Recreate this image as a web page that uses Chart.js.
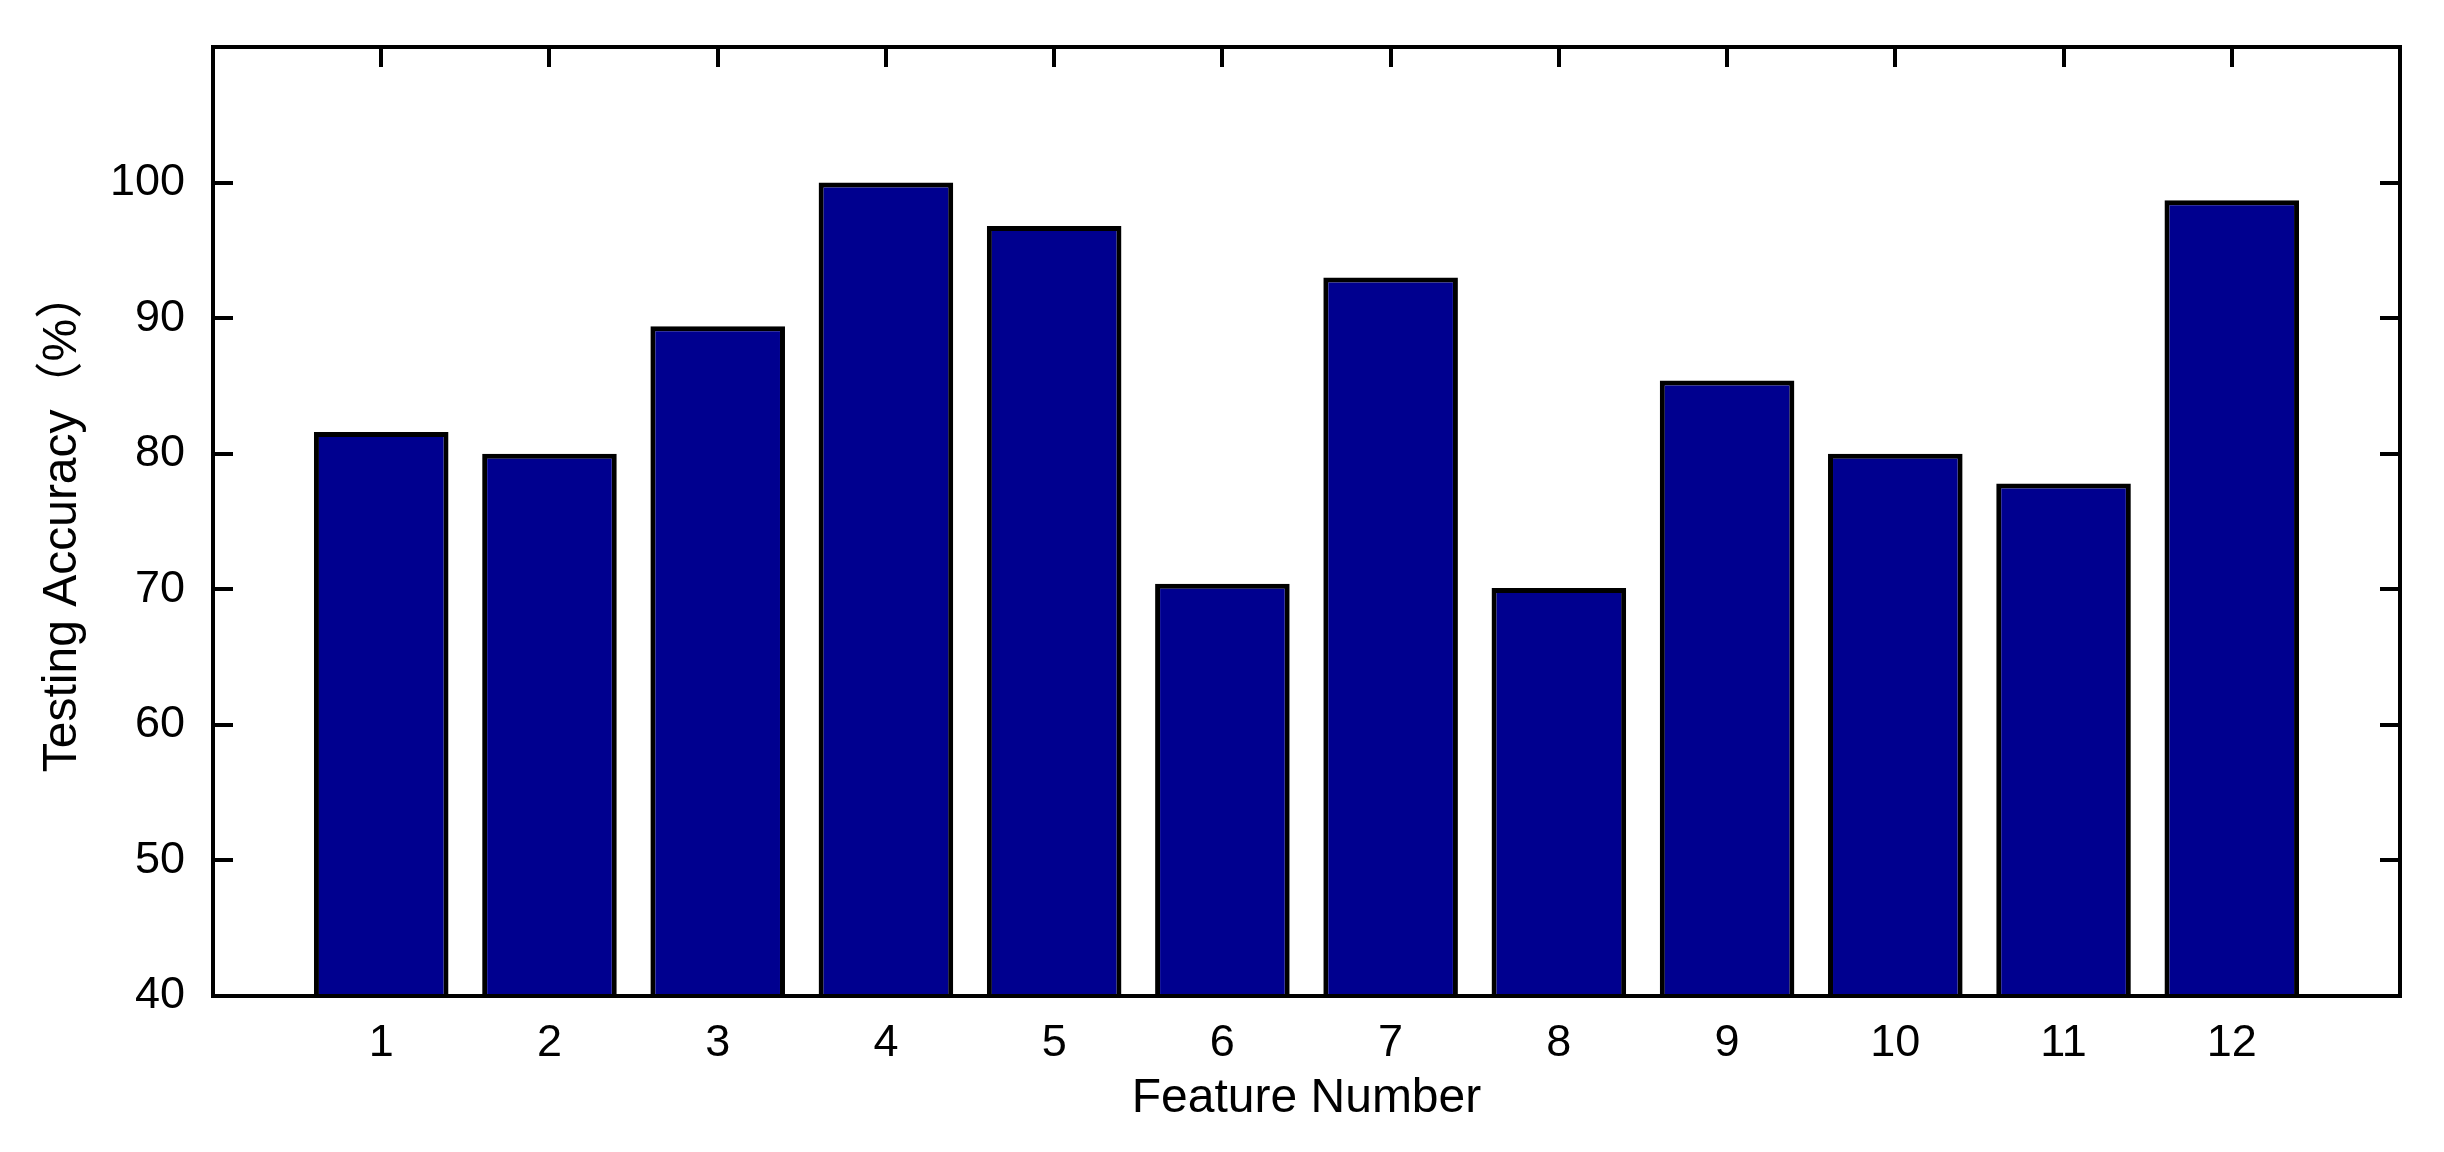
<!DOCTYPE html>
<html>
<head>
<meta charset="utf-8">
<script src="https://cdn.jsdelivr.net/npm/chart.js@4/dist/chart.umd.min.js"></script>
<style>
  html, body { margin: 0; padding: 0; background: #fff; }
  canvas { display: block; }
</style>
</head>
<body>
<canvas id="bar-chart" width="2444" height="1152"></canvas>
<script>
// values
var features = [1, 2, 3, 4, 5, 6, 7, 8, 9, 10, 11, 12];
var accuracy = [81.6, 80.0, 89.4, 100.0, 96.8, 70.4, 93.0, 70.1, 85.4, 80.0, 77.8, 98.7];
var yTicks = [40, 50, 60, 70, 80, 90, 100];

var fontFam = "'Liberation Sans', Arial, 'Noto Sans CJK SC', sans-serif";

// matlab style box with inward ticks
var boxPlugin = {
  id: 'box',
  beforeDatasetsDraw: function(chart) {
    var ctx = chart.ctx, a = chart.chartArea;
    var xs = chart.scales.x, ys = chart.scales.y;
    ctx.save();
    ctx.strokeStyle = '#000';
    ctx.lineWidth = 4;
    ctx.beginPath();
    features.forEach(function(f) {
      var px = Math.round(xs.getPixelForValue(f));
      ctx.moveTo(px, a.bottom); ctx.lineTo(px, a.bottom - 20);
      ctx.moveTo(px, a.top); ctx.lineTo(px, a.top + 20);
    });
    yTicks.forEach(function(v) {
      var py = Math.round(ys.getPixelForValue(v));
      ctx.moveTo(a.left, py); ctx.lineTo(a.left + 20, py);
      ctx.moveTo(a.right, py); ctx.lineTo(a.right - 20, py);
    });
    ctx.stroke();
    ctx.restore();
  },
  afterDatasetsDraw: function(chart) {
    var ctx = chart.ctx, a = chart.chartArea;
    ctx.save();
    ctx.strokeStyle = '#000';
    ctx.lineWidth = 4;
    ctx.strokeRect(a.left, a.top, a.right - a.left, a.bottom - a.top);
    ctx.restore();
  }
};

new Chart(document.getElementById("bar-chart"), {
  type: 'bar',
  data: {
    datasets: [{
      label: 'Testing Accuracy',
      data: features.map(function(f, i) { return {x: f, y: accuracy[i]}; }),
      backgroundColor: '#00008F',
      borderColor: '#000',
      borderWidth: 5,
      borderSkipped: false,
      inflateAmount: 0,
      barPercentage: 0.8,
      categoryPercentage: 1.0
    }]
  },
  options: {
    responsive: false,
    animation: false,
    devicePixelRatio: 1,
    layout: { padding: { top: 44, right: 44, left: 0, bottom: 0 } },
    plugins: {
      legend: { display: false },
      tooltip: { enabled: false }
    },
    scales: {
      x: {
        type: 'linear',
        min: 0,
        max: 13,
        offset: false,
        grid: { display: false },
        border: { display: false },
        ticks: {
          stepSize: 1,
          autoSkip: false,
          maxRotation: 0,
          padding: 13,
          color: '#000',
          font: { family: fontFam, size: 45 },
          callback: function(v) { return (v >= 1 && v <= 12) ? String(v) : ''; }
        },
        title: {
          display: true,
          text: 'Feature Number',
          color: '#000',
          font: { family: fontFam, size: 48 },
          padding: { top: 0, bottom: 24 }
        },
        afterFit: function(s) { s.height = 156; }
      },
      y: {
        min: 40,
        max: 110,
        grid: { display: false },
        border: { display: false },
        ticks: {
          stepSize: 10,
          padding: 20,
          color: '#000',
          font: { family: fontFam, size: 45 },
          callback: function(v) { return v <= 100 ? String(v) : ''; }
        },
        title: {
          display: true,
          text: 'Testing Accuracy（%）',
          color: '#000',
          font: { family: fontFam, size: 48 },
          padding: { top: 34, bottom: 0 }
        },
        afterFit: function(s) { s.width = 213; }
      }
    }
  },
  plugins: [boxPlugin]
});
</script>
</body>
</html>
